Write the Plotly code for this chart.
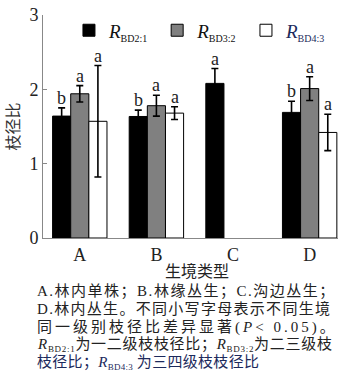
import plotly.graph_objects as go

categories = ["A", "B", "C", "D"]
series_names = [
    "<i>R</i><sub><span style='font-size:10px'>BD2:1</span></sub>",
    "<i>R</i><sub><span style='font-size:10px'>BD3:2</span></sub>",
    "<i>R</i><sub><span style='font-size:10px'>BD4:3</span></sub>",
]
r21 = [1.64, 1.635, 2.08, 1.69]
r21_err = [0.11, 0.085, 0.2, 0.15]
r32 = [1.94, 1.78, None, 2.01]
r32_err = [0.11, 0.14, None, 0.16]
r43 = [1.57, 1.68, None, 1.42]
r43_err = [0.75, 0.085, None, 0.245]
letters21 = ["b", "b", "a", "b"]
letters32 = ["a", "a", None, "a"]
letters43 = ["a", "a", None, "a"]
y_ticks = [0, 1, 2, 3]

fills = ["#000000", "#808080", "#ffffff"]
legend_ids = ["legend", "legend2", "legend3"]
legend_x = [0.088, 0.387, 0.688]
legend_colors = ["#111111", "#111111", "#1c2a5c"]
serif = "Liberation Serif, Times New Roman, serif"
cjk = "Noto Sans CJK SC"

fig = go.Figure()
all_vals = [r21, r32, r43]
all_errs = [r21_err, r32_err, r43_err]
all_letters = [letters21, letters32, letters43]
for name, vals, errs, col, lid in zip(series_names, all_vals, all_errs, fills, legend_ids):
    fig.add_trace(go.Bar(
        x=categories, y=vals, name=name, legend=lid,
        marker=dict(color=col, line=dict(color="#000000", width=1)),
        error_y=dict(type="data", array=errs, visible=True, color="#000000",
                     thickness=1.6, width=3.5),
    ))

annotations = []
bar_px = 18.1
for k, (vals, errs, lets) in enumerate(zip(all_vals, all_errs, all_letters)):
    for cat, v, e, l in zip(categories, vals, errs, lets):
        if v is None or l is None:
            continue
        annotations.append(dict(
            x=cat, y=v + e, xref="x", yref="y", text=l, showarrow=False,
            xanchor="center", yanchor="bottom", xshift=(k - 1) * bar_px, yshift=-2,
            font=dict(family=serif, size=18, color="#222222")))

PLOT_BOTTOM = 237.7
def lat(t):
    return "<span style='font-family:Liberation Serif'>%s</span>" % t

def rsub(sub):
    return "<i>%s</i><sub><span style='font-size:9px'>%s</span></sub>" % (lat("R"), lat(sub))

def line_ann(text, px_y, x_px, size=15, color="#222222", anchor="left", spacing=None):
    if spacing is not None:
        text = "<span style='letter-spacing:%spx'>%s</span>" % (spacing, text)
    return dict(x=(x_px - 43) / 295, y=0, xref="paper", yref="paper", text=text,
                showarrow=False, xanchor=anchor, yanchor="middle",
                yshift=-(px_y - PLOT_BOTTOM),
                font=dict(family=cjk, size=size, color=color))

annotations.append(line_ann("生境类型", 270, 197, size=16, anchor="center"))
annotations.append(line_ann(lat("A.") + "林内单株；" + lat("B.") + "林缘丛生；" + lat("C.") + "沟边丛生；", 289, 35, spacing=1.5))
annotations.append(line_ann(lat("D.") + "林内丛生。不同小写字母表示不同生境", 307, 35, spacing=1.3))
annotations.append(line_ann("同一级别枝径比差异显著" + lat("(<i>P</i>< 0.05)") + "。", 325, 35, spacing=3.0))
annotations.append(line_ann(rsub("BD2:1") + "为一二级枝枝径比；" + rsub("BD3:2") + "为二三级枝", 343, 35, spacing=0.7))
annotations.append(line_ann("枝径比；" + rsub("BD4:3") + " 为三四级枝枝径比", 361, 35, color="#1c2a5c", spacing=0.3))

legend_common = dict(orientation="h", y=0.931, xanchor="left", yanchor="middle",
                     bgcolor="rgba(0,0,0,0)", itemwidth=30)
layout_legends = {}
for lid, lx, lc in zip(legend_ids, legend_x, legend_colors):
    layout_legends[lid] = dict(legend_common, x=lx,
                               font=dict(family=serif, size=19, color=lc))

fig.update_layout(
    width=358, height=372,
    margin=dict(l=43, r=20, t=11, b=134.3),
    paper_bgcolor="white", plot_bgcolor="white",
    barmode="group", bargap=0.29, bargroupgap=0,
    showlegend=True,
    xaxis=dict(type="category", range=[-0.48, 3.37], showline=True, linecolor="#888888",
               linewidth=1, ticks="", tickfont=dict(family=serif, size=18, color="#222222"),
               showgrid=False, zeroline=False, automargin=False),
    yaxis=dict(range=[0, 3], tickvals=y_ticks, showline=True, linecolor="#888888",
               linewidth=1, ticks="inside", ticklen=4, tickcolor="#888888",
               tickfont=dict(family=serif, size=18, color="#222222"),
               showgrid=False, zeroline=False, automargin=False,
               title=dict(text="枝径比", font=dict(family=cjk, size=16, color="#333333"), standoff=8)),
    annotations=annotations,
    **layout_legends,
)

fig.write_html("out.html", config={"displayModeBar": False},
               post_script="document.body.style.margin='0';document.body.style.overflow='hidden';")
